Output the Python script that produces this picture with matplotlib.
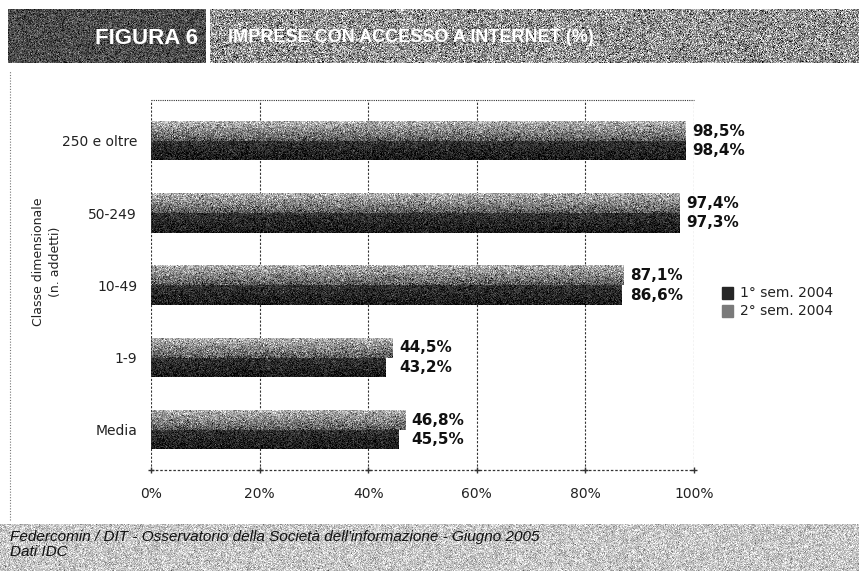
import numpy as np
import matplotlib
matplotlib.use("Agg")
import matplotlib.pyplot as plt
from matplotlib.patches import Rectangle
from matplotlib.lines import Line2D

categories = ["Media", "1-9", "10-49", "50-249", "250 e oltre"]
sem1_2004 = [45.5, 43.2, 86.6, 97.3, 98.4]
sem2_2004 = [46.8, 44.5, 87.1, 97.4, 98.5]
sem1_labels = ["45,5%", "43,2%", "86,6%", "97,3%", "98,4%"]
sem2_labels = ["46,8%", "44,5%", "87,1%", "97,4%", "98,5%"]
series_names = ["1° sem. 2004", "2° sem. 2004"]
xticks = [0, 20, 40, 60, 80, 100]
xtick_labels = ["0%", "20%", "40%", "60%", "80%", "100%"]

W, H = 859, 581
fig = plt.figure(figsize=(W / 100, H / 100), dpi=100)
fig.patch.set_facecolor("white")

rng = np.random.default_rng(7)


# grainy print-style band
def band(x0, y0, x1, y1, base, spread, z=0):
    ax_b = fig.add_axes([x0 / W, 1 - y1 / H, (x1 - x0) / W, (y1 - y0) / H])
    h = int(y1 - y0)
    w = int(x1 - x0)
    img = np.clip(base + spread * rng.standard_normal((h, w)), 0, 1)
    ax_b.imshow(img, cmap="gray", vmin=0, vmax=1, aspect="auto",
                interpolation="nearest")
    ax_b.set_axis_off()
    ax_b.set_zorder(z)
    return ax_b


band(8, 9, 206, 63, 0.30, 0.12)
band(210, 9, 859, 63, 0.58, 0.22)
band(0, 524, 859, 571, 0.78, 0.12)

head_font = ["Liberation Sans Narrow", "Liberation Sans", "DejaVu Sans"]
fig.text(198 / W, 1 - 38 / H, "FIGURA 6", ha="right", va="center",
         color="white", fontsize=16, fontweight="bold", family=head_font)
fig.text(228 / W, 1 - 38 / H, "IMPRESE CON ACCESSO A INTERNET (%)",
         ha="left", va="center", color="white", fontsize=13,
         fontweight="bold", family=head_font)

foot_font = ["Liberation Sans Narrow", "Liberation Sans", "DejaVu Sans"]
fig.text(10 / W, 1 - 537 / H,
         "Federcomin / DIT - Osservatorio della Società dell'informazione - Giugno 2005",
         ha="left", va="center", fontsize=11, style="italic", color="#111111",
         family=foot_font)
fig.text(10 / W, 1 - 552 / H, "Dati IDC", ha="left", va="center",
         fontsize=11, style="italic", color="#111111", family=foot_font)

# page edge line on the left
fig.add_artist(Line2D([10 / W, 10 / W], [1 - 520 / H, 1 - 70 / H],
                      transform=fig.transFigure, color="#777777", lw=0.8,
                      ls=(0, (1, 1.5))))

# main plot
ax = fig.add_axes([151 / W, 1 - 470 / H, 543 / W, 370 / H])
ax.set_zorder(2)
ax.patch.set_alpha(0)
y = np.arange(len(categories))
bh = 0.27
dark_col, light_col = "#262626", "#8c8c8c"
bars1 = ax.barh(y - bh / 2, sem1_2004, height=bh, color=dark_col, zorder=3)
bars2 = ax.barh(y + bh / 2, sem2_2004, height=bh, color=light_col, zorder=3)

# grain texture inside each bar, one noise sample per pixel
px_per_unit = 543 / 100
for bars, top, bottom, spread in [(bars1, 0.20, 0.10, 0.09),
                                  (bars2, 0.70, 0.35, 0.15)]:
    for b in bars:
        x0, y0 = b.get_x(), b.get_y()
        w, h = b.get_width(), b.get_height()
        nx = max(int(w * px_per_unit), 1)
        grad = np.linspace(top, bottom, 20)[:, None] * np.ones((20, nx))
        img = np.clip(grad + spread * rng.standard_normal(grad.shape), 0, 1)
        ax.imshow(img, cmap="gray", vmin=0, vmax=1, aspect="auto",
                  extent=(x0, x0 + w, y0, y0 + h), origin="upper",
                  interpolation="nearest", zorder=3.5)

ax.set_xlim(0, 100)
ax.set_ylim(-0.554, 4.567)
ax.set_xticks(xticks)
ax.set_xticklabels(xtick_labels)
ax.set_yticks(y)
ax.set_yticklabels(categories)
ax.tick_params(axis="both", length=0, labelsize=10, colors="#222222")
ax.tick_params(axis="x", pad=12)
ax.tick_params(axis="y", pad=10)
for t in xticks[1:]:
    ax.axvline(t, color="#333333", lw=0.8, ls=(0, (2, 1.5)), zorder=1)
for side in ["right", "bottom", "left", "top"]:
    ax.spines[side].set_visible(False)
ax.axvline(0, color="#333333", lw=0.8, ls=(0, (2, 1.5)), zorder=4)
ax.axhline(-0.554, color="#333333", lw=0.9, ls=(0, (2, 1.5)), zorder=4,
           clip_on=False)
ax.axhline(4.567, color="#333333", lw=0.8, ls=(0, (1, 1)), zorder=1,
           clip_on=False)
ax.plot(xticks, [-0.554] * len(xticks), ls="none", marker="+", ms=5,
        color="#333333", clip_on=False, zorder=5)

for yi, v1, v2, l1, l2 in zip(y, sem1_2004, sem2_2004, sem1_labels, sem2_labels):
    xe = max(v1, v2) + 1.2
    ax.text(xe, yi + bh / 2, l2, ha="left", va="center", fontsize=11,
            fontweight="bold", color="#111111", zorder=6)
    ax.text(xe, yi - bh / 2, l1, ha="left", va="center", fontsize=11,
            fontweight="bold", color="#111111", zorder=6)

fig.text(47 / W, 1 - 262 / H, "Classe dimensionale\n(n. addetti)",
         rotation=90, ha="center", va="center", fontsize=9,
         color="#222222", linespacing=1.3)

# legend
for i, (name, col) in enumerate(zip(series_names, [dark_col, "#7a7a7a"])):
    yy = 293 + i * 18
    fig.patches.append(Rectangle((722 / W, 1 - (yy + 6) / H), 11 / W, 12 / H,
                                 transform=fig.transFigure, color=col,
                                 figure=fig))
    fig.text(740 / W, 1 - yy / H, name, ha="left", va="center",
             fontsize=10, color="#222222")

fig.savefig("out.png", dpi=100)
